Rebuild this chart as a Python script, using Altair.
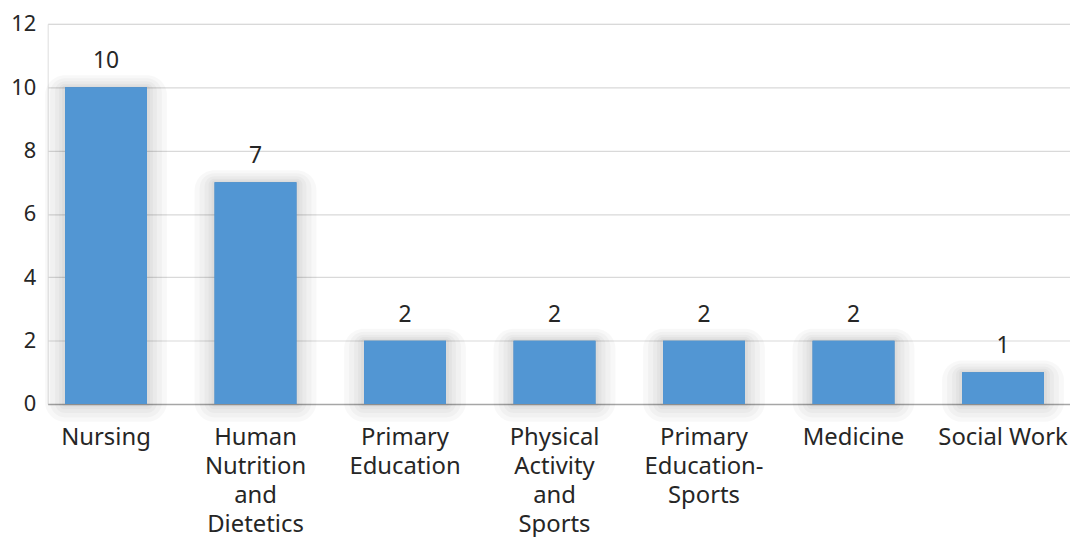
import altair as alt
import pandas as pd

categories = ["Nursing", "Human Nutrition and Dietetics", "Primary Education",
              "Physical Activity and Sports", "Primary Education-Sports",
              "Medicine", "Social Work"]
counts = [10, 7, 2, 2, 2, 2, 1]
label_lines = [["Nursing"], ["Human", "Nutrition", "and", "Dietetics"],
               ["Primary", "Education"], ["Physical", "Activity", "and", "Sports"],
               ["Primary", "Education-", "Sports"], ["Medicine"], ["Social Work"]]
y_ticks = [0, 2, 4, 6, 8, 10, 12]

df = pd.DataFrame({"category": categories, "count": counts})

expr = "''"
for cat, lines in reversed(list(zip(categories, label_lines))):
    arr = "[" + ",".join("'" + l + "'" for l in lines) + "]"
    expr = f"datum.label == '{cat}' ? {arr} : ({expr})"

FONT = "Noto Sans"
BAR = "#5296d3"
PX_PER_UNIT = 383 / 12
BAND_FRAC = 0.548
BAR_PX = 82

sort = categories
x = alt.X("category:N", sort=sort, title=None,
          scale=alt.Scale(paddingInner=1 - BAND_FRAC, paddingOuter=0.145, align=0.4),
          axis=alt.Axis(labelExpr=expr, labelAngle=0, labelFont=FONT, labelFontSize=24,
                        labelColor="#262626", labelLineHeight=29, labelPadding=22,
                        ticks=False, domainColor="#a6a6a6", domainWidth=1.5,
                        labelBaseline="top"))
y = alt.Y("count:Q", title=None,
          scale=alt.Scale(domain=[0, 12], nice=False),
          axis=alt.Axis(values=y_ticks, labelFont=FONT, labelFontSize=22,
                        labelColor="#262626", labelPadding=12, ticks=False, domain=False,
                        gridColor="#d9d9d9", gridWidth=1.2))

base = alt.Chart(df)

layers = []
for k in [20, 15, 10, 6, 3]:
    off = k / PX_PER_UNIT
    layers.append(
        base.transform_calculate(
            top=f"datum.count + {off * 0.6}", bottom=f"-{off * 0.9}"
        ).mark_bar(color="#000000", opacity=0.028,
                   width=alt.RelativeBandSize(1 + 2 * k / BAR_PX),
                   cornerRadius=k).encode(
            x=alt.X("category:N", sort=sort),
            y=alt.Y("top:Q"),
            y2="bottom:Q",
        )
    )

bars = base.mark_bar(color=BAR).encode(x=x, y=y)
text = base.mark_text(font=FONT, fontSize=23, color="#262626", baseline="alphabetic",
                      dy=-19).encode(x=alt.X("category:N", sort=sort),
                                     y=alt.Y("count:Q"), text="count:Q")

chart = alt.layer(bars, *layers, bars, text).properties(
    width=1030, height=383,
    padding={"left": 40, "top": 14, "right": 0, "bottom": 132},
    autosize=alt.AutoSizeParams(type="none"),
).configure_view(stroke=None).configure(background="white")

chart.save("out.html", embed_options={"renderer": "svg", "actions": False})
